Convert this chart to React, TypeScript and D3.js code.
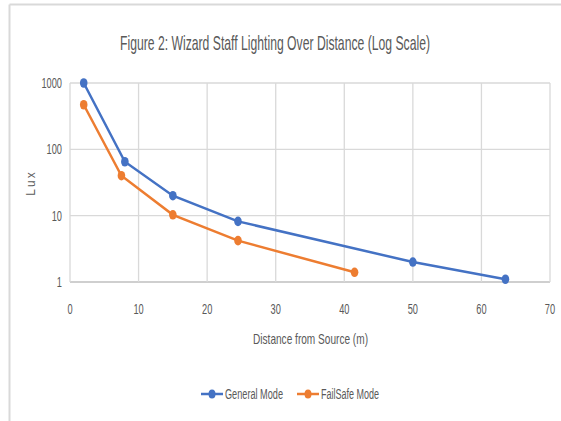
import React from "react";
import * as d3 from "d3";

const generalX = [2, 8, 15, 24.5, 50, 63.5];
const generalY = [1000, 65, 20, 8.2, 2.0, 1.1];
const failX = [2, 7.5, 15, 24.5, 41.5];
const failY = [470, 40, 10.3, 4.2, 1.4];
const xTicks = [0, 10, 20, 30, 40, 50, 60, 70];
const yTicks = [1, 10, 100, 1000];

const W = 561;
const H = 421;
const font = "'Liberation Sans', Arial, sans-serif";
const textColor = "#595959";

// condensed text: the Calibri-like look is narrower than anything installed
const NText = ({ x, y, size, anchor = "start", sx = 0.66, children }: any) => (
  <text transform={`translate(${x},${y}) scale(${sx},1)`} textAnchor={anchor}
    fontFamily={font} fontSize={size} fill={textColor}>{children}</text>
);

const App = () => {
  const x = d3.scaleLinear().domain([0, 70]).range([70, 550]);
  const y = d3.scaleLog().domain([1, 1000]).range([282, 83]);

  const line = d3.line<[number, number]>()
    .x(d => x(d[0]))
    .y(d => y(d[1]));

  const series = [
    { name: "General Mode", color: "#4472C4", pts: generalX.map((v, i) => [v, generalY[i]] as [number, number]) },
    { name: "FailSafe Mode", color: "#ED7D31", pts: failX.map((v, i) => [v, failY[i]] as [number, number]) },
  ];

  return (
    <svg width={W} height={H} style={{ position: "absolute", left: 0, top: 0, background: "#fff" }}>
      {/* descenders of the document line above the chart frame */}
      <text x={71} y={-6} fontFamily="'Liberation Serif', serif" fontSize={22} fill="#000">
        (Log Scale) shown in the Figure
      </text>
      <line x1={9.5} x2={W} y1={4.5} y2={4.5} stroke="#d9d9d9" strokeWidth={2} />
      <line x1={9.5} x2={9.5} y1={4.5} y2={H} stroke="#d9d9d9" strokeWidth={2} />

      <text x={120} y={50} textLength={310} lengthAdjust="spacingAndGlyphs"
        fontFamily={font} fontSize={21} fill={textColor}>
        Figure 2: Wizard Staff Lighting Over Distance (Log Scale)
      </text>

      {yTicks.map(t => (
        <g key={"y" + t}>
          <line x1={70} x2={550} y1={y(t)} y2={y(t)} stroke={t === 1 ? "#bfbfbf" : "#d9d9d9"} strokeWidth={1.3} />
          <NText x={62} y={y(t) + 5} size={14} anchor="end">{t}</NText>
        </g>
      ))}
      {xTicks.map(t => (
        <g key={"x" + t}>
          <line x1={x(t)} x2={x(t)} y1={83} y2={282} stroke="#d9d9d9" strokeWidth={1.3} />
          <NText x={x(t)} y={314} size={14} anchor="middle">{t}</NText>
        </g>
      ))}

      <text transform="translate(35,183) rotate(-90)" textAnchor="middle" fontFamily={font} fontSize={12}
        letterSpacing={2} fill={textColor}>Lux</text>
      <text x={253} y={344} textLength={115} lengthAdjust="spacingAndGlyphs"
        fontFamily={font} fontSize={15} fill={textColor}>
        Distance from Source (m)
      </text>

      {series.map(s => (
        <g key={s.name}>
          <path d={line(s.pts) || ""} fill="none" stroke={s.color} strokeWidth={2.5} />
          {s.pts.map((p, i) => (
            <ellipse key={i} cx={x(p[0])} cy={y(p[1])} rx={3.8} ry={4.8} fill={s.color} />
          ))}
        </g>
      ))}

      {series.map((s, i) => {
        const lx = 201 + i * 96;
        return (
          <g key={"lg" + s.name}>
            <line x1={lx} x2={lx + 22} y1={394} y2={394} stroke={s.color} strokeWidth={2.5} />
            <ellipse cx={lx + 11} cy={394} rx={3.5} ry={4.5} fill={s.color} />
            <text x={lx + 24} y={399} textLength={58} lengthAdjust="spacingAndGlyphs"
              fontFamily={font} fontSize={14} fill={textColor}>{s.name}</text>
          </g>
        );
      })}
    </svg>
  );
};

export default App;
